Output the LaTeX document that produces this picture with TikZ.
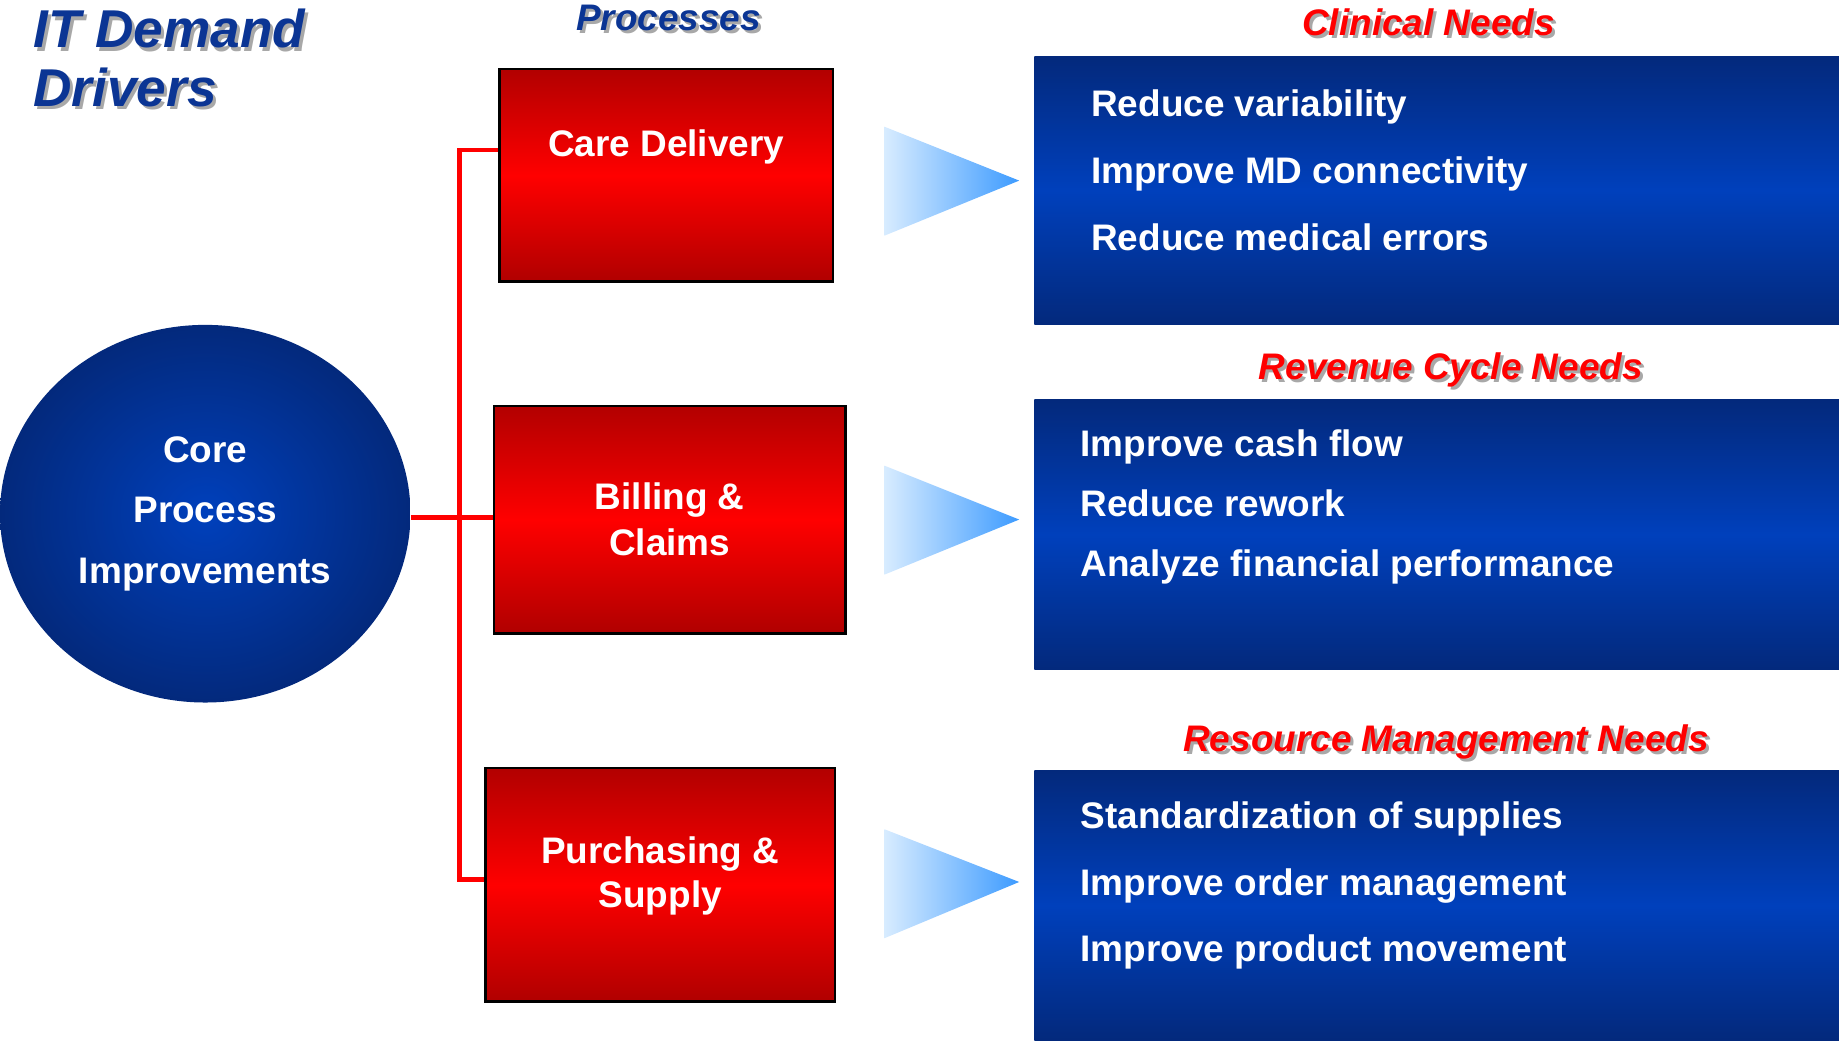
\documentclass[tikz,border=0pt]{standalone}
\usepackage{fontspec}
\setmainfont{Liberation Sans}
\usetikzlibrary{shapes.geometric}

\definecolor{titleblue}{HTML}{0B3594}
\definecolor{needred}{HTML}{FF0000}
\definecolor{redtop}{HTML}{B20000}
\definecolor{redmid}{HTML}{FF0000}
\definecolor{redbot}{HTML}{B00000}
\definecolor{navy}{HTML}{03297C}
\definecolor{brightblue}{HTML}{0040BC}
\definecolor{palesky}{HTML}{D8ECFF}
\definecolor{skyblue}{HTML}{3D9BFF}
\definecolor{shadowgray}{HTML}{A8A8A8}

\newcommand\shadowed[1]{\makebox[0pt][l]{\hspace{1.3pt}\raisebox{-1.3pt}{\textcolor{shadowgray}{#1}}}#1}

\begin{document}
\begin{tikzpicture}[x=0.5pt, y=-0.5pt, every node/.style={inner sep=0pt, font=\bfseries\fontsize{15.75}{19}\selectfont},
    heading/.style={text=titleblue, font=\bfseries\itshape\fontsize{15.75}{19}\selectfont},
    needtitle/.style={text=needred, font=\bfseries\itshape\fontsize{15.75}{19}\selectfont},
    procbox/.style={draw=black, line width=1pt, top color=redtop, bottom color=redbot, middle color=redmid},
    proctext/.style={text=white, align=center, font=\bfseries\fontsize{15.75}{19.5}\selectfont},
    needbox/.style={top color=navy, bottom color=navy, middle color=brightblue, minimum width=343pt, minimum height=115pt},
    needtext/.style={text=white, align=left, anchor=west},
    link/.style={draw=red, line width=2pt}]
        \useasboundingbox (0,0) rectangle (1568,887);

        % headings
        \node[heading, font=\bfseries\itshape\fontsize{22.7}{25}\selectfont, align=left, anchor=west] (drivers) at (28,51) {\shadowed{IT Demand}\\\shadowed{Drivers}};
        \node[heading] (processes) at (570,17) {\shadowed{Processes}};

        % core ellipse
        \node[ellipse, inner color=brightblue, outer color=navy, minimum width=175pt, minimum height=161pt, text=white, align=center, font=\bfseries\fontsize{15.75}{25.75}\selectfont] (core) at (175,438) {Core\\Process\\Improvements};

        % processes
        \node[procbox, minimum width=142pt, minimum height=90.5pt] (care) at (568,149.5) {};
        \node[proctext] (caretxt) at (568,125) {Care Delivery};
        \node[procbox, minimum width=150pt, minimum height=97pt] (bill) at (571,443) {};
        \node[proctext] (billtxt) at (571,443) {Billing \&\\Claims};
        \node[procbox, minimum width=149pt, minimum height=99.5pt] (purch) at (563,754.5) {};
        \node[proctext, font=\bfseries\fontsize{15.75}{19}\selectfont] (purchtxt) at (563,747) {Purchasing \&\\Supply};

        \coordinate (jtop) at (392,128);
        \coordinate (jbot) at (392,750);
        \draw[link] (core.east |- 0,441) -- (bill.west |- 0,441);
        \draw[link] (care.west |- jtop) -- (jtop) -- (jbot) -- (purch.west |- jbot);

        % pointers
        \shade[left color=palesky, right color=skyblue] (754,108) -- (754,201) -- (869,154) -- cycle;
        \shade[left color=palesky, right color=skyblue] (754,397) -- (754,490) -- (869,443) -- cycle;
        \shade[left color=palesky, right color=skyblue] (754,707) -- (754,800) -- (869,752) -- cycle;

        % needs
        \node[needtitle] (clintitle) at (1218,20) {\shadowed{Clinical Needs}};
        \node[needbox, minimum height=114.5pt] (clinbox) at (1225,162.5) {};
        \node[needtext, font=\bfseries\fontsize{15.75}{28.5}\selectfont] (clinlist) at (930,145) {Reduce variability\\Improve MD connectivity\\Reduce medical errors};

        \node[needtitle] (revtitle) at (1237,317) {\shadowed{Revenue Cycle Needs}};
        \node[needbox] (revbox) at (1225,456) {};
        \node[needtext, font=\bfseries\fontsize{15.75}{25.5}\selectfont] (revlist) at (921,432) {Improve cash flow\\Reduce rework\\Analyze financial performance};

        \node[needtitle] (restitle) at (1233,634) {\shadowed{Resource Management Needs}};
        \node[needbox] (resbox) at (1225,772) {};
        \node[needtext, font=\bfseries\fontsize{15.75}{28.5}\selectfont] (reslist) at (921,755) {Standardization of supplies\\Improve order management\\Improve product movement};
    \end{tikzpicture}
\end{document}
